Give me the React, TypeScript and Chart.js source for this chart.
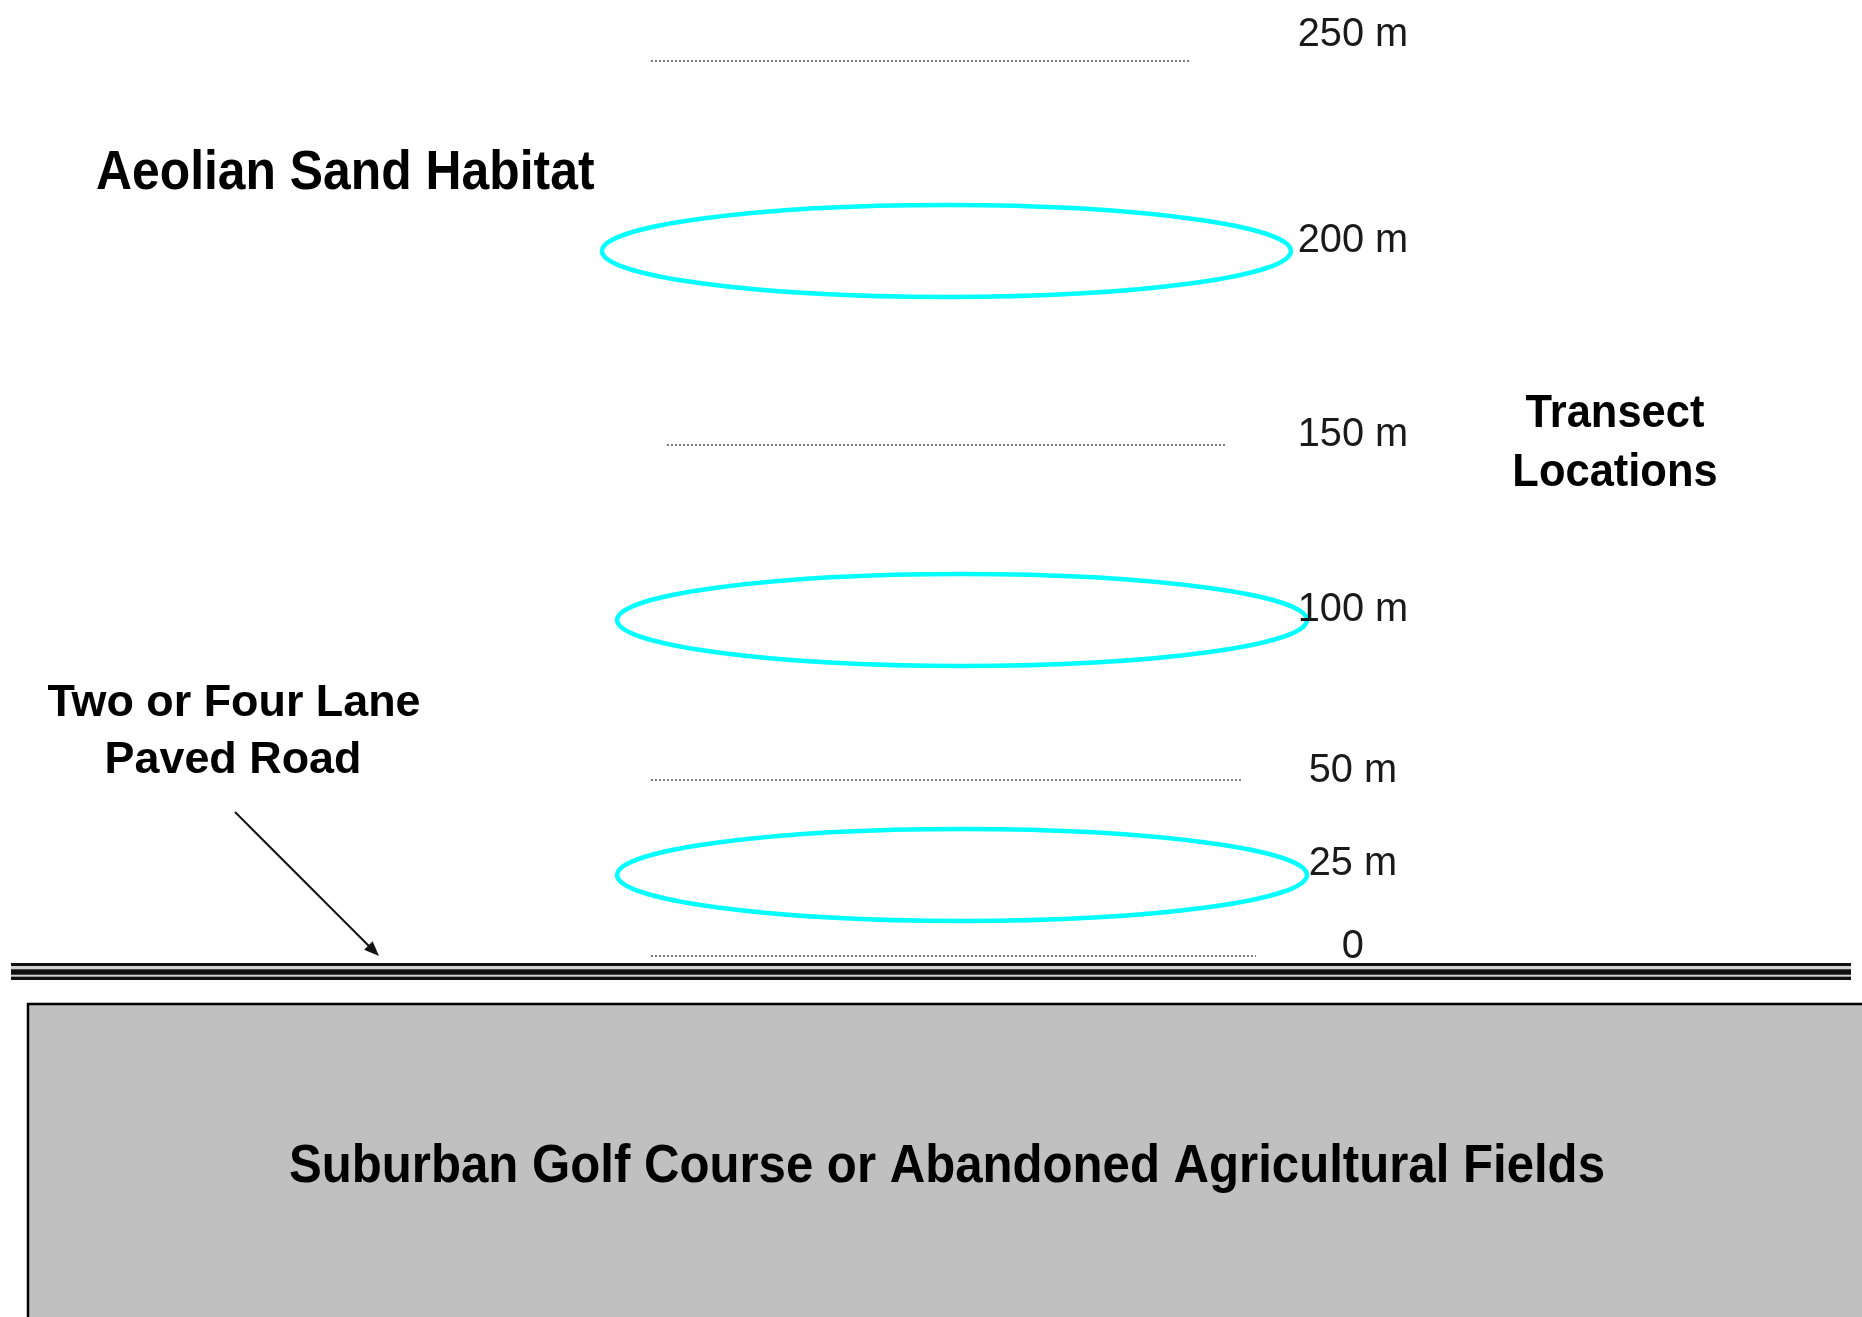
import React, { useEffect, useRef } from 'react';
import { Chart, registerables, LinearScale } from 'chart.js';

// ---------------- data ----------------
const distances = [250, 200, 150, 100, 50, 25, 0];
const distanceLabels = ['250 m', '200 m', '150 m', '100 m', '50 m', '25 m', '0'];
const transectDistances = [200, 100, 25];
const markerDistances = [250, 150, 50, 0];
const habitatLabel = 'Aeolian Sand Habitat';
const transectLabel = ['Transect', 'Locations'];
const roadLabel = ['Two or Four Lane', 'Paved Road'];
const fieldLabel = 'Suburban Golf Course or Abandoned Agricultural Fields';

// ---------------- layout (schematic drawing, not data) ----------------
// vertical position of each distance row, as a fraction of the plot height (aligned with distances)
const rowDecimal = [0.9537, 0.8094, 0.6621, 0.5292, 0.4077, 0.3356, 0.2741];
// horizontal extents in % of width
const markerExtent = [[34.96, 63.96], [35.82, 65.84], [34.96, 66.65], [34.96, 67.45]];
const transectExtent = [[32.33, 69.33], [33.14, 70.19], [33.14, 70.19]];
const labelCenterX = 72.66;
const labelLift = [30, 14, 14, 14, 13, 15, 13];
const FONT = '"Liberation Sans", Arial, sans-serif';

const warpStops = distances
  .map((d, i) => [d, rowDecimal[i]] as [number, number])
  .sort((a, b) => a[0] - b[0]);

function warp(v: number): number {
  const s = warpStops;
  let i = 0;
  if (v <= s[0][0]) i = 0;
  else if (v >= s[s.length - 1][0]) i = s.length - 2;
  else {
    while (v > s[i + 1][0]) i++;
  }
  const [v0, d0] = s[i];
  const [v1, d1] = s[i + 1];
  return d0 + ((v - v0) * (d1 - d0)) / (v1 - v0);
}

function unwarp(dec: number): number {
  const s = warpStops;
  let i = 0;
  if (dec <= s[0][1]) i = 0;
  else if (dec >= s[s.length - 1][1]) i = s.length - 2;
  else {
    while (dec > s[i + 1][1]) i++;
  }
  const [v0, d0] = s[i];
  const [v1, d1] = s[i + 1];
  return v0 + ((dec - d0) * (v1 - v0)) / (d1 - d0);
}

class WarpScale extends (LinearScale as any) {
  static id = 'warp';
  static defaults = {};
  getPixelForValue(value: number) {
    return (this as any).getPixelForDecimal(warp(value));
  }
  getValueForPixel(pixel: number) {
    return unwarp((this as any).getDecimalForPixel(pixel));
  }
}

Chart.register(...registerables, WarpScale as any);

function drawText(
  ctx: CanvasRenderingContext2D,
  text: string,
  x: number,
  capCenterY: number,
  size: number,
  weight: string,
  scaleX: number,
  align: CanvasTextAlign,
  color = '#000'
) {
  ctx.save();
  ctx.translate(x, capCenterY + size * 0.358);
  ctx.scale(scaleX, 1);
  ctx.font = `${weight} ${size}px ${FONT}`;
  ctx.textAlign = align;
  ctx.textBaseline = 'alphabetic';
  ctx.fillStyle = color;
  ctx.fillText(text, 0, 0);
  ctx.restore();
}

const diagramPlugin = {
  id: 'diagram',
  beforeDatasetsDraw(chart: any) {
    const ctx: CanvasRenderingContext2D = chart.ctx;
    ctx.save();
    // field block
    ctx.fillStyle = '#c0c0c0';
    ctx.fillRect(28, 1004, 1900, 400);
    ctx.strokeStyle = '#000';
    ctx.lineWidth = 2.5;
    ctx.strokeRect(28, 1004, 1900, 400);
    // road (triple line)
    ctx.fillStyle = '#111';
    ctx.fillRect(11, 963, 1840, 17);
    ctx.fillStyle = '#d2d2d2';
    ctx.fillRect(11, 966, 1840, 3.3);
    ctx.fillRect(11, 974.7, 1840, 2);
    ctx.restore();
  },
  afterDatasetsDraw(chart: any) {
    const ctx: CanvasRenderingContext2D = chart.ctx;
    const xs = chart.scales.x;
    const ys = chart.scales.y;

    // transect ellipses
    ctx.save();
    ctx.strokeStyle = '#00ffff';
    ctx.lineWidth = 4.5;
    transectDistances.forEach((d, i) => {
      const x0 = xs.getPixelForValue(transectExtent[i][0]);
      const x1 = xs.getPixelForValue(transectExtent[i][1]);
      const cy = ys.getPixelForValue(d);
      ctx.beginPath();
      ctx.ellipse((x0 + x1) / 2, cy, (x1 - x0) / 2, 46, 0, 0, Math.PI * 2);
      ctx.stroke();
    });
    ctx.restore();

    // distance labels
    const lx = xs.getPixelForValue(labelCenterX);
    distances.forEach((d, i) => {
      const y = ys.getPixelForValue(d) - labelLift[i];
      drawText(ctx, distanceLabels[i], lx, y, 41, 'normal', 0.97, 'center', '#1a1a1a');
    });

    // annotations
    drawText(ctx, habitatLabel, 96, 169, 56, 'bold', 0.89, 'left');
    drawText(ctx, transectLabel[0], 1615, 410, 47, 'bold', 0.925, 'center');
    drawText(ctx, transectLabel[1], 1615, 469.5, 47, 'bold', 0.925, 'center');
    drawText(ctx, roadLabel[0], 234, 700, 44, 'bold', 1.02, 'center');
    drawText(ctx, roadLabel[1], 233, 757, 44, 'bold', 1.02, 'center');
    drawText(ctx, fieldLabel, 947, 1163, 54, 'bold', 0.91, 'center');

    // arrow to the road
    const ax0 = 235, ay0 = 812, ax1 = 379, ay1 = 956;
    const ang = Math.atan2(ay1 - ay0, ax1 - ax0);
    ctx.save();
    ctx.strokeStyle = '#111';
    ctx.fillStyle = '#111';
    ctx.lineWidth = 2;
    ctx.beginPath();
    ctx.moveTo(ax0, ay0);
    ctx.lineTo(ax1 - 10 * Math.cos(ang), ay1 - 10 * Math.sin(ang));
    ctx.stroke();
    ctx.beginPath();
    ctx.moveTo(ax1, ay1);
    ctx.lineTo(ax1 - 15 * Math.cos(ang) + 6 * Math.sin(ang), ay1 - 15 * Math.sin(ang) - 6 * Math.cos(ang));
    ctx.lineTo(ax1 - 15 * Math.cos(ang) - 6 * Math.sin(ang), ay1 - 15 * Math.sin(ang) + 6 * Math.cos(ang));
    ctx.closePath();
    ctx.fill();
    ctx.restore();
  },
};

export default function App() {
  const ref = useRef<HTMLCanvasElement | null>(null);

  useEffect(() => {
    if (!ref.current) return;
    const datasets = markerDistances.map((d, i) => ({
      label: `${d} m`,
      data: [
        { x: markerExtent[i][0], y: d },
        { x: markerExtent[i][1], y: d },
      ],
      showLine: true,
      borderColor: '#7a7a7a',
      borderWidth: 2,
      borderDash: [2, 2],
      pointRadius: 0,
      fill: false,
    }));
    const chart = new Chart(ref.current, {
      type: 'scatter',
      data: { datasets },
      options: {
        responsive: false,
        animation: false,
        events: [],
        devicePixelRatio: 1,
        layout: { padding: 0 },
        plugins: { legend: { display: false }, tooltip: { enabled: false }, title: { display: false } },
        scales: {
          x: { type: 'linear', min: 0, max: 100, display: false },
          y: { type: 'warp' as any, min: -100, max: 300, display: false },
        },
      },
      plugins: [diagramPlugin],
    } as any);
    return () => chart.destroy();
  }, []);

  return (
    <div style={{ position: 'fixed', left: 0, top: 0, width: 1862, height: 1317, background: '#fff' }}>
      <canvas ref={ref} width={1862} height={1317} style={{ display: 'block', width: 1862, height: 1317 }} />
    </div>
  );
}
